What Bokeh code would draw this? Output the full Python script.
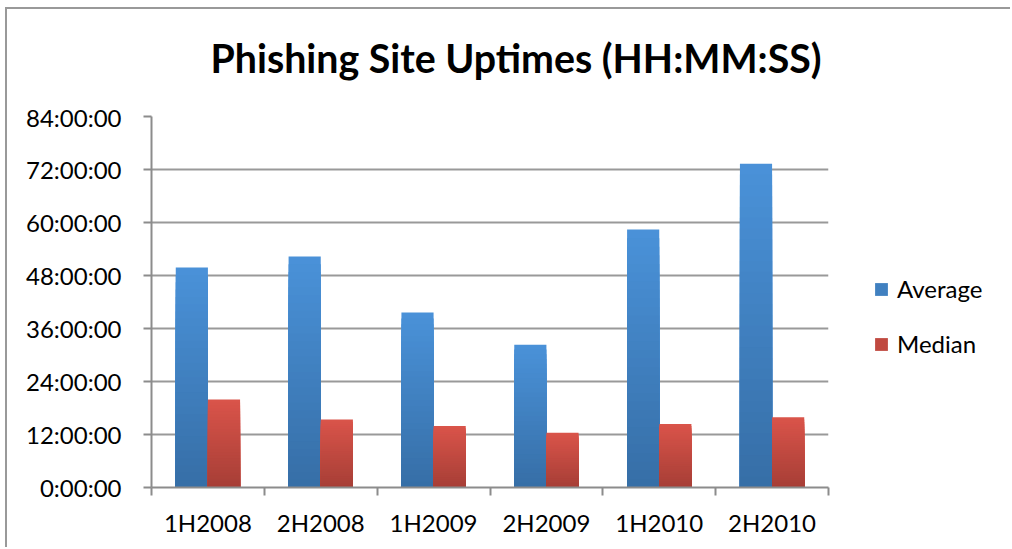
from bokeh.plotting import figure
from bokeh.layouts import row, column
from bokeh.models import FixedTicker, Range1d, Legend, LegendItem, Label
from bokeh.embed import file_html
from bokeh.resources import INLINE

# ---- data ----
periods = ["1H2008", "2H2008", "1H2009", "2H2009", "1H2010", "2H2010"]
average_hours = [49.8, 52.3, 39.6, 32.3, 58.4, 73.3]
median_hours = [19.9, 15.4, 13.9, 12.4, 14.4, 15.9]
series_names = ["Average", "Median"]
y_ticks = [0, 12, 24, 36, 48, 60, 72, 84]
y_tick_labels = ["0:00:00", "12:00:00", "24:00:00", "36:00:00",
                 "48:00:00", "60:00:00", "72:00:00", "84:00:00"]
title_text = "Phishing Site Uptimes (HH:MM:SS)"

# ---- style ----
FONT = "Lato"
GRAY = "#999999"
AXIS_GRAY = "#8c8c8c"
BLUE_TOP, BLUE_BOTTOM = (74, 146, 217), (54, 110, 166)
RED_TOP, RED_BOTTOM = (218, 84, 74), (166, 62, 54)
BAR_W = 0.285
N_SEG = 30

W_ALL = 1003
H_TITLE = 93
H_MAIN = 445
W_MAIN, W_LEG = 830, 173
BORDER_TOP, BORDER_BOTTOM = 14, 60


def mix(c0, c1, t):
    return "#%02x%02x%02x" % tuple(int(round(a + (b - a) * t)) for a, b in zip(c0, c1))


def blank_figure(width, height, **kw):
    f = figure(width=width, height=height, output_backend="svg", toolbar_location=None,
               x_axis_location=None, y_axis_location=None, title_location=None, **kw)
    f.outline_line_color = None
    f.grid.visible = False
    f.background_fill_color = "white"
    f.border_fill_color = "white"
    return f


# ---- title strip ----
tf = blank_figure(W_ALL, H_TITLE, x_range=Range1d(0, W_ALL), y_range=Range1d(0, H_TITLE),
                  min_border=0)
tf.add_layout(Label(x=508.5, y=45, text=title_text, text_align="center",
                    text_baseline="alphabetic", text_font=FONT, text_font_style="bold",
                    text_font_size="39.3px", text_color="#000000"))

# ---- main chart ----
p = figure(width=W_MAIN, height=H_MAIN, output_backend="svg", toolbar_location=None,
           title_location=None,
           x_range=Range1d(0, len(periods)), y_range=Range1d(0, y_ticks[-1]),
           min_border_left=144, min_border_right=9,
           min_border_top=BORDER_TOP, min_border_bottom=BORDER_BOTTOM)
p.outline_line_color = None
p.background_fill_color = "white"
p.border_fill_color = "white"


def gradient_bars(values, offset, c_bottom, c_top):
    xs, tops, colors = [], [], []
    for k in range(N_SEG, 0, -1):
        for i, v in enumerate(values):
            xs.append(i + 0.5 + offset)
            tops.append(v * k / N_SEG)
            colors.append(mix(c_bottom, c_top, (k - 0.5) / N_SEG))
    return p.vbar(x=xs, bottom=0, top=tops, width=BAR_W, fill_color=colors, line_color=None)


gradient_bars(average_hours, -BAR_W / 2, BLUE_BOTTOM, BLUE_TOP)
gradient_bars(median_hours, BAR_W / 2, RED_BOTTOM, RED_TOP)

# y axis
p.yaxis.ticker = FixedTicker(ticks=y_ticks)
p.yaxis.major_label_overrides = dict(zip(y_ticks, y_tick_labels))
p.yaxis.axis_line_color = AXIS_GRAY
p.yaxis.axis_line_width = 2
p.yaxis.major_tick_line_color = AXIS_GRAY
p.yaxis.major_tick_line_width = 2
p.yaxis.major_tick_in = 0
p.yaxis.major_tick_out = 8
p.yaxis.minor_tick_line_color = None
p.yaxis.major_label_standoff = 22
p.yaxis.major_label_text_font = FONT
p.yaxis.major_label_text_font_size = "24px"
p.yaxis.major_label_text_color = "#000000"

# x axis
centers = [i + 0.5 for i in range(len(periods))]
p.xaxis.ticker = FixedTicker(ticks=centers, minor_ticks=list(range(len(periods) + 1)))
p.xaxis.major_label_overrides = dict(zip(centers, periods))
p.xaxis.axis_line_color = AXIS_GRAY
p.xaxis.axis_line_width = 2
p.xaxis.major_tick_line_color = None
p.xaxis.minor_tick_line_color = AXIS_GRAY
p.xaxis.minor_tick_line_width = 2
p.xaxis.minor_tick_in = 0
p.xaxis.minor_tick_out = 8
p.xaxis.major_label_standoff = 12
p.xaxis.major_label_text_font = FONT
p.xaxis.major_label_text_font_size = "24px"
p.xaxis.major_label_text_color = "#000000"

# grid
p.xgrid.visible = False
p.ygrid.grid_line_color = GRAY
p.ygrid.grid_line_width = 2

# ---- legend panel ----
lg = blank_figure(W_LEG, H_MAIN, x_range=Range1d(0, 1), y_range=Range1d(0, 1),
                  min_border_left=0, min_border_right=0,
                  min_border_top=BORDER_TOP, min_border_bottom=BORDER_BOTTOM)
proxy_avg = lg.vbar(x=[0], bottom=[0], top=[0], width=0.001,
                    fill_color=mix(BLUE_BOTTOM, BLUE_TOP, 0.5), line_color=None)
proxy_med = lg.vbar(x=[0], bottom=[0], top=[0], width=0.001,
                    fill_color=mix(RED_BOTTOM, RED_TOP, 0.5), line_color=None)
legend = Legend(items=[LegendItem(label=series_names[0], renderers=[proxy_avg]),
                       LegendItem(label=series_names[1], renderers=[proxy_med])],
                location=(36, 129), padding=0, margin=0,
                border_line_color=None, background_fill_alpha=0,
                glyph_width=16, glyph_height=16, label_height=16,
                spacing=26, label_standoff=8,
                label_text_font=FONT, label_text_font_size="24px",
                label_text_color="#000000")
lg.add_layout(legend)

layout = column(tf, row(p, lg))
layout.styles = {"margin-top": "7px", "margin-left": "5px",
                 "border-top": "2px solid #999999", "border-left": "2px solid #999999"}

open("out.html", "w").write(file_html(layout, INLINE))
